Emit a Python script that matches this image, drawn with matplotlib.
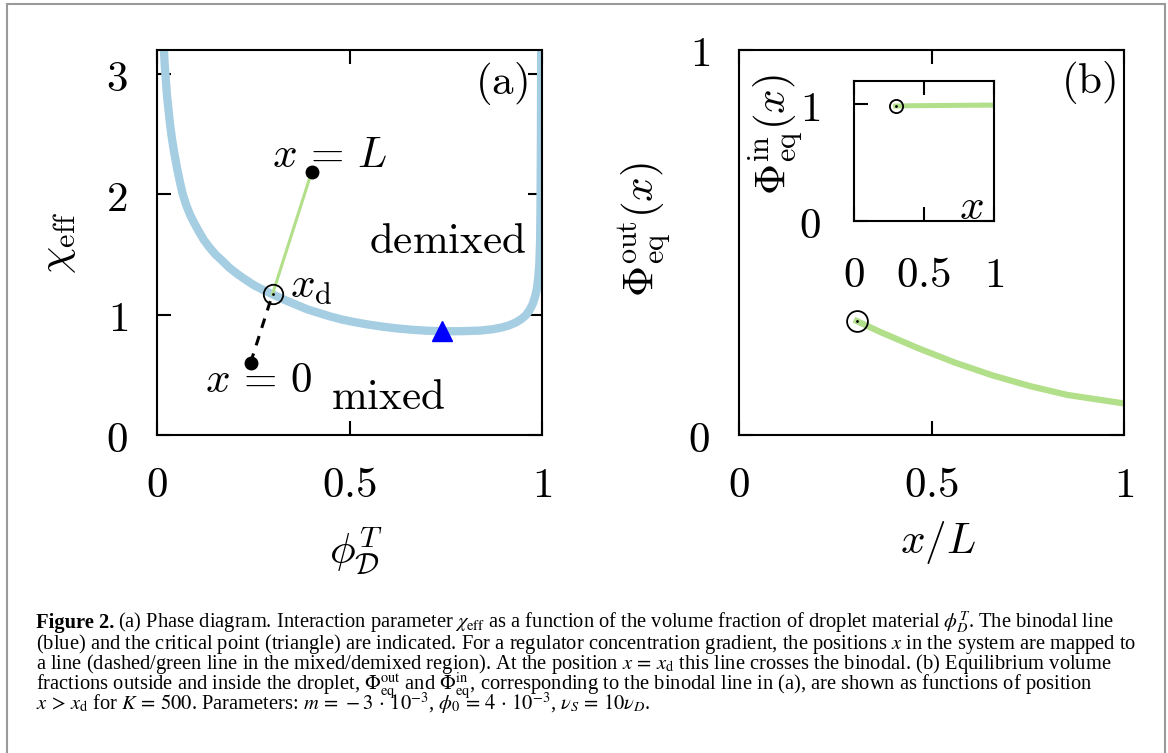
import matplotlib
matplotlib.use("Agg")
import matplotlib.pyplot as plt
from matplotlib.patches import Rectangle

# binodal line, panel (a)
binodal_phi = [0.018, 0.020, 0.023, 0.026, 0.030, 0.034, 0.039, 0.045, 0.052, 0.059,
               0.067, 0.076, 0.086, 0.097, 0.109, 0.122, 0.136, 0.152, 0.169, 0.188,
               0.208, 0.228, 0.252, 0.276, 0.300, 0.330, 0.360, 0.390, 0.420, 0.450,
               0.480, 0.510, 0.545, 0.580, 0.620, 0.665, 0.700, 0.740, 0.790, 0.839,
               0.870, 0.895, 0.915, 0.932, 0.946, 0.958, 0.968, 0.976, 0.982, 0.987,
               0.990, 0.993, 0.995, 0.996, 0.997, 0.998]
binodal_chi = [3.20, 3.08, 2.95, 2.82, 2.70, 2.58, 2.46, 2.34, 2.22, 2.11,
               2.00, 1.91, 1.83, 1.76, 1.69, 1.62, 1.56, 1.50, 1.45, 1.39,
               1.34, 1.295, 1.245, 1.205, 1.17, 1.125, 1.085, 1.045, 1.015, 0.985,
               0.96, 0.94, 0.92, 0.903, 0.887, 0.874, 0.867, 0.862, 0.863, 0.868,
               0.878, 0.893, 0.912, 0.935, 0.963, 0.995, 1.04, 1.09, 1.15, 1.22,
               1.30, 1.42, 1.60, 1.85, 2.30, 3.20]
critical_point = (0.740, 0.865)
map_x0 = (0.243, 0.60)     # x = 0
map_xd = (0.300, 1.17)     # x = x_d
map_xL = (0.402, 2.19)     # x = L

# panel (b)
out_x = [0.306, 0.366, 0.464, 0.561, 0.658, 0.756, 0.853, 1.000]
out_y = [0.296, 0.268, 0.226, 0.188, 0.155, 0.127, 0.104, 0.082]
in_x = [0.30, 0.40, 0.60, 0.80, 1.00]
in_y = [0.985, 0.988, 0.990, 0.992, 0.993]

BLUE = "#a6cee3"
GREEN = "#b2df8a"
FS = 31
plt.rcParams["mathtext.fontset"] = "cm"
plt.rcParams["axes.linewidth"] = 1.5


def style(ax, xt, yt, pad=21):
    ax.set_xticks(xt)
    ax.set_yticks(yt)
    ax.set_xticklabels([f"${v:g}$" for v in xt])
    ax.set_yticklabels([f"${v:g}$" for v in yt])
    ax.tick_params(direction="in", top=True, right=True, length=10, width=1.5,
                   labelsize=FS, pad=pad)
    for sp in ax.spines.values():
        sp.set_zorder(5)


fig = plt.figure(figsize=(11.68, 7.53), dpi=100)
fig.patches.append(Rectangle((7 / 1168, -0.05), 1158 / 1168, 1.05 - 4 / 753,
                             transform=fig.transFigure, fill=False,
                             edgecolor="#9a9a9a", lw=1.5))

# (a)
ax1 = fig.add_axes([157 / 1168, 318 / 753, 385 / 1168, 385 / 753])
ax1.plot(binodal_phi, binodal_chi, color=BLUE, lw=6, solid_capstyle="butt",
         solid_joinstyle="round", zorder=2)
ax1.plot(*critical_point, marker="^", color="#0000ff", ms=14, zorder=4)
ax1.plot([map_x0[0], map_xd[0]], [map_x0[1], map_xd[1]], color="black", lw=2.2,
         ls=(0, (3.2, 2.8)), zorder=3)
ax1.plot([map_xd[0], map_xL[0]], [map_xd[1], map_xL[1]], color=GREEN, lw=2.2, zorder=3)
ax1.plot([map_x0[0], map_xL[0]], [map_x0[1], map_xL[1]], "o", color="black", ms=9,
         zorder=4)
ax1.plot(*map_xd, "o", mfc="none", mec="black", ms=14, mew=1.3, zorder=4)
ax1.plot(*map_xd, ".", color="black", ms=2, zorder=4)
ax1.set_xlim(0, 1)
ax1.set_ylim(0, 3.2)
style(ax1, [0, 0.5, 1], [0, 1, 2, 3])
ax1.text(0.30, 2.23, r"$x\,=\,L$", fontsize=FS, va="baseline")
ax1.text(0.345, 1.14, r"$x_\mathrm{d}$", fontsize=FS, va="baseline")
ax1.text(0.125, 0.357, r"$x\,=\,0$", fontsize=FS, va="baseline")
ax1.text(0.452, 0.219, r"$\mathrm{mixed}$", fontsize=FS, va="baseline")
ax1.text(0.551, 1.51, r"$\mathrm{demixed}$", fontsize=FS, va="baseline")
ax1.text(0.964, 2.836, r"$\mathrm{(a)}$", fontsize=FS, va="baseline", ha="right")
ax1.text(-0.26, 0.5, r"$\chi_\mathrm{eff}$", fontsize=FS, rotation=90,
         ha="center", va="center", transform=ax1.transAxes)
ax1.text(0.517, -0.30, r"$\phi_\mathcal{D}^T$", fontsize=FS, ha="center",
         va="center", transform=ax1.transAxes)

# (b)
ax2 = fig.add_axes([739 / 1168, 318 / 753, 385 / 1168, 385 / 753])
ax2.plot(out_x, out_y, color=GREEN, lw=4.5, zorder=2)
ax2.plot(out_x[0], out_y[0], "o", mfc="none", mec="black", ms=15, mew=1.3, zorder=4)
ax2.plot(out_x[0], out_y[0], ".", color="black", ms=2, zorder=4)
ax2.set_xlim(0, 1)
ax2.set_ylim(0, 1)
style(ax2, [0, 0.5, 1], [0, 1])
ax2.text(0.979, 0.888, r"$\mathrm{(b)}$", fontsize=FS, va="baseline", ha="right")
ax2.text(-0.244, 0.534, r"$\Phi_\mathrm{eq}^\mathrm{out}(x)$", fontsize=FS,
         rotation=90, ha="center", va="center", transform=ax2.transAxes)
ax2.text(0.517, -0.28, r"$x/L$", fontsize=FS, ha="center", va="center",
         transform=ax2.transAxes)

# inset
ax3 = fig.add_axes([853.7 / 1168, 532 / 753, 140 / 1168, 140 / 753])
ax3.plot(in_x, in_y, color=GREEN, lw=3.6, zorder=2)
ax3.plot(in_x[0], in_y[0], "o", mfc="none", mec="black", ms=9.5, mew=1.3, zorder=4)
ax3.plot(in_x[0], in_y[0], ".", color="black", ms=2, zorder=4)
ax3.set_xlim(0, 1)
ax3.set_ylim(0, 1.2)
style(ax3, [0, 0.5, 1], [0, 1], pad=24)
ax3.text(0.84, 0.10, r"$x$", fontsize=FS, ha="center", va="center",
         transform=ax3.transAxes)
ax3.text(-0.555, 0.614, r"$\Phi_\mathrm{eq}^\mathrm{in}(x)$", fontsize=FS,
         rotation=90, ha="center", va="center", transform=ax3.transAxes)

# caption
caption = [
    r"(a) Phase diagram. Interaction parameter $\chi_\mathrm{eff}$ as a function of the volume fraction of droplet material $\phi_D^T$. The binodal line",
    r"(blue) and the critical point (triangle) are indicated. For a regulator concentration gradient, the positions $x$ in the system are mapped to",
    r"a line (dashed/green line in the mixed/demixed region). At the position $x\,=\,x_\mathrm{d}$ this line crosses the binodal. (b) Equilibrium volume",
    r"fractions outside and inside the droplet, $\Phi_\mathrm{eq}^\mathrm{out}$ and $\Phi_\mathrm{eq}^\mathrm{in}$, corresponding to the binodal line in (a), are shown as functions of position",
    r"$x\,>\,x_\mathrm{d}$ for $K\,=\,500$. Parameters: $m\,=\,-3\,\cdot\,10^{-3}$, $\phi_0\,=\,4\,\cdot\,10^{-3}$, $\nu_S\,=\,10\nu_D$.",
]
cap_kw = dict(fontsize=14.8, family="Liberation Serif", math_fontfamily="stix",
              va="baseline")
head = fig.text(36 / 1168, 1 - 628 / 753, "Figure 2.", weight="bold", **cap_kw)
bb = head.get_window_extent(fig.canvas.get_renderer())
for i, line in enumerate(caption):
    x0 = (bb.x1 + 4) / 1168 if i == 0 else 36 / 1168
    fig.text(x0, 1 - (628 + 20.5 * i) / 753, line, **cap_kw)

fig.savefig("out.png", dpi=100)
